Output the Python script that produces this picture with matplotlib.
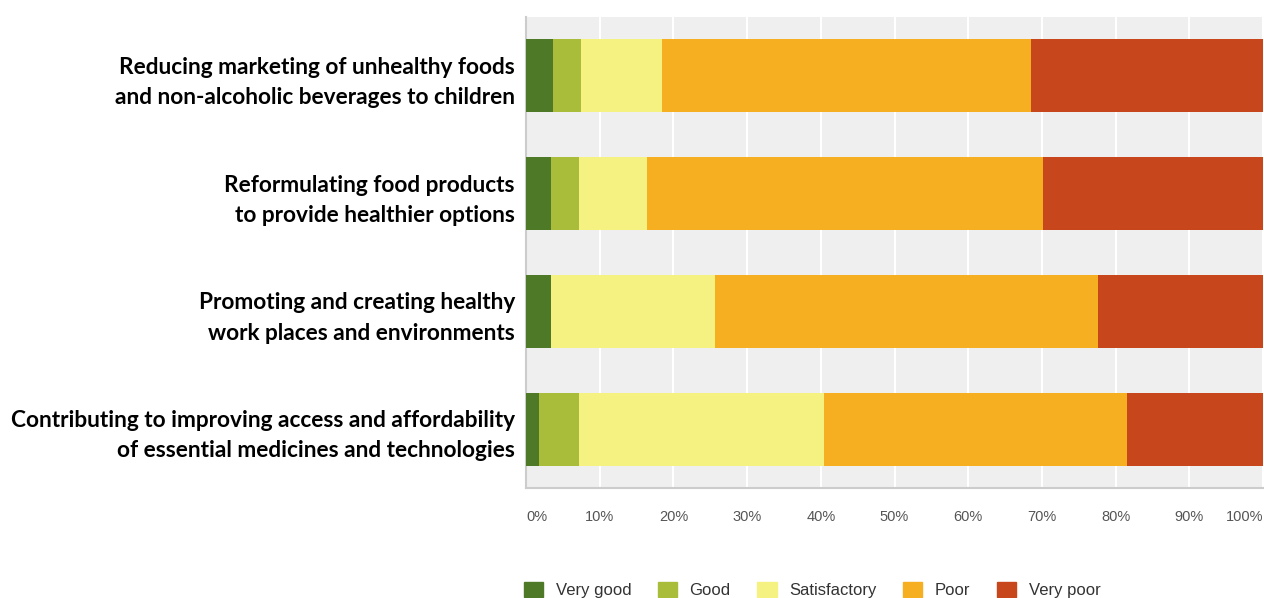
import matplotlib.pyplot as plt
import numpy as np
from matplotlib.patches import Patch

categories = [
    "Reducing marketing of unhealthy foods\nand non-alcoholic beverages to children",
    "Reformulating food products\nto provide healthier options",
    "Promoting and creating healthy\nwork places and environments",
    "Contributing to improving access and affordability\nof essential medicines and technologies",
]
series = ["Very good", "Good", "Satisfactory", "Poor", "Very poor"]
very_good = [3.6, 3.4, 3.4, 1.7]
good = [3.8, 3.8, 0.0, 5.5]
satisfactory = [11.0, 9.2, 22.3, 33.3]
poor = [50.1, 53.8, 51.9, 41.0]
very_poor = [31.5, 29.8, 22.4, 18.5]
colors = ["#4e7a27", "#aabd3b", "#f6f282", "#f6af20", "#c8461b"]
ticks = list(range(0, 101, 10))

values = np.array([very_good, good, satisfactory, poor, very_poor])

fig = plt.figure(figsize=(12.64, 5.98), dpi=100)
ax = fig.add_axes([526 / 1264, 1 - 488 / 598, 737 / 1264, 471 / 598])
ax.set_facecolor("#efefef")

y = np.arange(len(categories))
left = np.zeros(len(categories))
for vals, name, col in zip(values, series, colors):
    ax.barh(y, vals, left=left, height=0.62, color=col, label=name, zorder=3)
    left += vals

ax.set_xlim(0, 100)
ax.set_ylim(len(categories) - 0.5, -0.5)
ax.set_xticks(ticks)
ax.set_xticklabels([f"{t}%" for t in ticks], color="#555555", fontsize=10.5,
                   family="Liberation Sans")
labs = ax.get_xticklabels()
labs[0].set_ha("left")
labs[-1].set_ha("right")
ax.tick_params(axis="x", length=0, pad=16)
ax.grid(axis="x", color="white", linewidth=1.5, zorder=1)

ax.set_yticks(y)
ax.set_yticklabels(categories, fontsize=16.3, fontweight="bold", family="Lato",
                   linespacing=1.55, ha="right", multialignment="right")
ax.tick_params(axis="y", length=0, pad=8)

for side in ["top", "right"]:
    ax.spines[side].set_visible(False)
for side in ["left", "bottom"]:
    ax.spines[side].set_color("#cccccc")
    ax.spines[side].set_linewidth(1.5)

handles = [Patch(facecolor=c, edgecolor=c, label=s) for s, c in zip(series, colors)]
fig.legend(handles=handles, loc="center left", bbox_to_anchor=(524 / 1264, 1 - 590 / 598),
           ncol=5, frameon=False, handlelength=1.15, handleheight=1.0,
           handletextpad=0.75, columnspacing=1.6, borderpad=0, borderaxespad=0,
           prop={"family": "Liberation Sans", "size": 12})
for t in fig.legends[0].get_texts():
    t.set_color("#333333")

fig.savefig("out.png", dpi=100)
